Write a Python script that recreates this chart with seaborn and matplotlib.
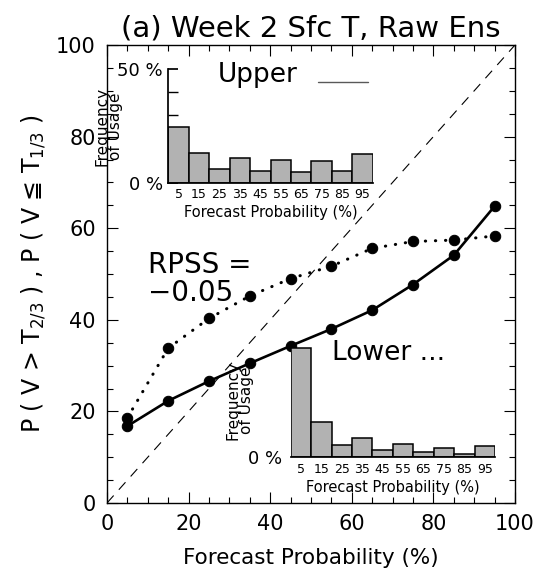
import numpy as np
import pandas as pd
import matplotlib
matplotlib.use("Agg")
import matplotlib.pyplot as plt
from matplotlib.lines import Line2D
from matplotlib.ticker import MultipleLocator
import seaborn as sns

# ---- data ----
prob = [5, 15, 25, 35, 45, 55, 65, 75, 85, 95]
upper_obs = [16.8, 22.3, 26.6, 30.5, 34.3, 38.0, 42.1, 47.7, 54.1, 64.8]
lower_obs = [18.6, 33.8, 40.3, 45.2, 49.0, 51.7, 55.6, 57.1, 57.4, 58.3]
upper_freq = [24.4, 12.9, 5.9, 11.0, 5.1, 10.0, 4.7, 9.6, 5.0, 12.8]
lower_freq = [48.1, 15.4, 5.4, 8.5, 3.2, 5.7, 2.2, 4.1, 1.6, 5.0]
title = "(a) Week 2 Sfc T, Raw Ens"

sns.set_theme(style="white")
plt.rcParams['font.family'] = ['DejaVu Sans']
plt.rcParams.update({'text.color': 'black', 'axes.labelcolor': 'black',
                     'xtick.color': 'black', 'ytick.color': 'black'})

W, H = 537, 577
fig = plt.figure(figsize=(W / 100, H / 100), dpi=100)

def fx(px):
    return px / W

def fy(py):
    return 1 - py / H

# main axes: x 107-515, y 45-503 (pixels)
ax = fig.add_axes([fx(107), fy(503), (515 - 107) / W, (503 - 45) / H])
ax.set_facecolor('white')

df = pd.DataFrame({'prob': prob, 'upper': upper_obs, 'lower': lower_obs})

ax.plot([0, 100], [0, 100], color='black', lw=0.8, dashes=(9, 7), zorder=1)
sns.lineplot(data=df, x='prob', y='upper', ax=ax, color='black', lw=1.9,
             marker='o', markersize=7.5, markeredgecolor='black', zorder=3)
sns.lineplot(data=df, x='prob', y='lower', ax=ax, color='black', lw=2.2,
             linestyle=(0, (0.1, 3.2)), dash_capstyle='round',
             marker='o', markersize=7.5, markeredgecolor='black', zorder=3)

ax.set_xlim(0, 100)
ax.set_ylim(0, 100)
ax.xaxis.set_major_locator(MultipleLocator(20))
ax.xaxis.set_minor_locator(MultipleLocator(5))
ax.yaxis.set_major_locator(MultipleLocator(20))
ax.yaxis.set_minor_locator(MultipleLocator(5))
ax.tick_params(which='both', direction='in', top=True, right=True,
               bottom=True, left=True, color='black', width=0.8)
ax.tick_params(which='major', length=8, labelsize=15, pad=8)
ax.tick_params(which='minor', length=4)
for s in ax.spines.values():
    s.set_color('black')
    s.set_linewidth(1.0)
ax.set_xlabel("Forecast Probability (%)", fontsize=15.5, labelpad=10)
ax.set_ylabel("P ( V > T$_{2/3}$ ) , P ( V \u2266 T$_{1/3}$ )", fontsize=17, labelpad=6)
ax.set_title(title, fontsize=21, pad=6)

ax.text(10, 52, "RPSS =", fontsize=20, ha='left', va='center')
ax.text(10, 45.8, "\u22120.05", fontsize=20, ha='left', va='center')

def inset(left_px, bottom_px, freq, show_top):
    a = fig.add_axes([fx(left_px), fy(bottom_px), 204.4 / W, 113.4 / H])
    a.patch.set_alpha(0)
    hdf = pd.DataFrame({'p': prob, 'f': freq})
    sns.histplot(data=hdf, x='p', weights='f', bins=10, binrange=(0, 100), ax=a,
                 color='#b2b2b2', edgecolor='black', linewidth=1.1, alpha=1)
    a.set_xlim(0, 100)
    a.set_ylim(0, 50)
    for k in ['top', 'right']:
        a.spines[k].set_visible(False)
    a.spines['bottom'].set_color('black')
    a.spines['left'].set_color('black')
    a.set_xticks(prob)
    a.set_xticklabels([str(p) for p in prob])
    a.tick_params(axis='x', length=0, labelsize=9, pad=4, bottom=True)
    if show_top:
        a.set_yticks([0, 50])
        a.set_yticklabels(["0 %", "50 %"])
        a.yaxis.set_minor_locator(MultipleLocator(10))
        a.tick_params(axis='y', which='both', direction='in', length=7,
                      labelsize=13, pad=4, left=True)
    else:
        a.spines['left'].set_visible(False)
        a.set_yticks([0])
        a.set_yticklabels(["0 %"])
        a.tick_params(axis='y', length=0, labelsize=13, pad=6, left=True)
    a.set_xlabel("Forecast Probability (%)", fontsize=10.5, labelpad=3)
    a.set_ylabel("Frequency\nof Usage", fontsize=11, labelpad=-4, linespacing=0.85)
    return a

inset(168.3, 182.7, upper_freq, True)
inset(290.7, 457.3, lower_freq, False)

fig.text(fx(218), fy(75), "Upper", fontsize=19, ha='left', va='center')
fig.add_artist(Line2D([fx(318), fx(368)], [fy(82), fy(82)],
                      transform=fig.transFigure, color='0.35', lw=1.0))
fig.text(fx(332), fy(353), "Lower ...", fontsize=19, ha='left', va='center')

fig.savefig("out.png", dpi=100, facecolor='white')
